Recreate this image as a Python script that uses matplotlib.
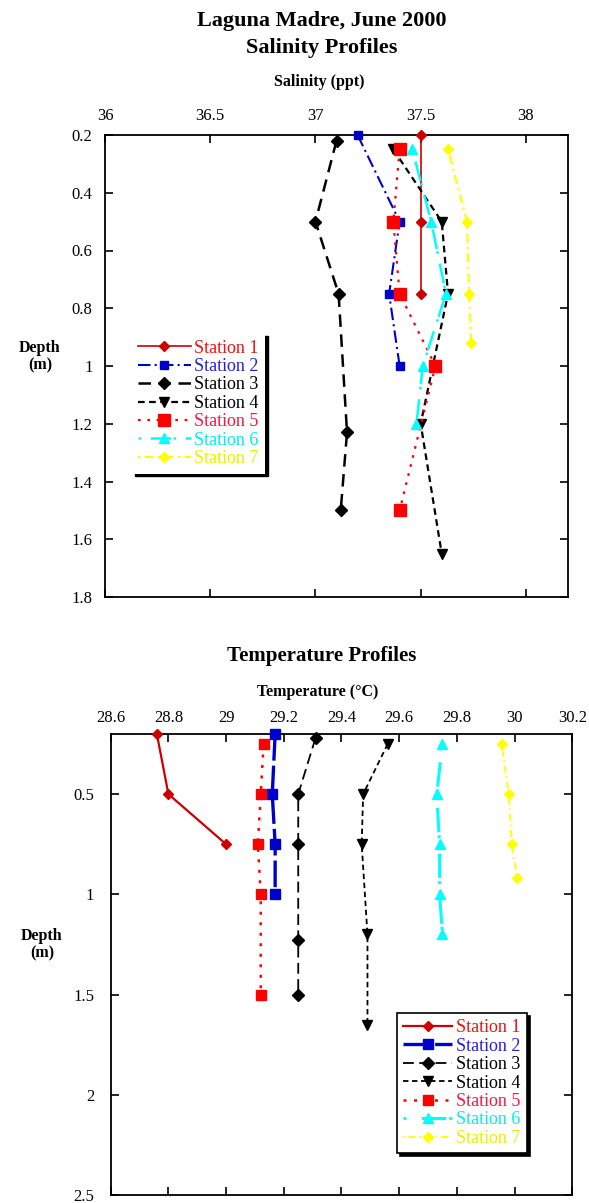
import matplotlib
matplotlib.use("Agg")
import matplotlib.pyplot as plt

plt.rcParams['font.family'] = ['Liberation Serif', 'DejaVu Serif']

# ---------------- data ----------------
stations = ["Station 1", "Station 2", "Station 3", "Station 4",
            "Station 5", "Station 6", "Station 7"]

# Salinity profiles (ppt) vs depth (m)
sal_depth = [
    [0.2, 0.5, 0.75],
    [0.2, 0.5, 0.75, 1.0],
    [0.22, 0.5, 0.75, 1.23, 1.5],
    [0.25, 0.5, 0.75, 1.2, 1.65],
    [0.25, 0.5, 0.75, 1.0, 1.5],
    [0.25, 0.5, 0.75, 1.0, 1.2],
    [0.25, 0.5, 0.75, 0.92],
]
sal_value = [
    [37.5, 37.5, 37.5],
    [37.2, 37.4, 37.35, 37.4],
    [37.1, 37.0, 37.11, 37.15, 37.12],
    [37.37, 37.6, 37.63, 37.5, 37.6],
    [37.4, 37.37, 37.4, 37.57, 37.4],
    [37.46, 37.55, 37.62, 37.51, 37.48],
    [37.63, 37.72, 37.73, 37.74],
]

# Temperature profiles (deg C) vs depth (m)
tmp_depth = [
    [0.2, 0.5, 0.75],
    [0.2, 0.5, 0.75, 1.0],
    [0.22, 0.5, 0.75, 1.23, 1.5],
    [0.25, 0.5, 0.75, 1.2, 1.65],
    [0.25, 0.5, 0.75, 1.0, 1.5],
    [0.25, 0.5, 0.75, 1.0, 1.2],
    [0.25, 0.5, 0.75, 0.92],
]
tmp_value = [
    [28.76, 28.80, 29.00],
    [29.17, 29.16, 29.17, 29.17],
    [29.31, 29.25, 29.25, 29.25, 29.25],
    [29.56, 29.475, 29.47, 29.49, 29.49],
    [29.13, 29.12, 29.11, 29.12, 29.12],
    [29.75, 29.73, 29.74, 29.74, 29.75],
    [29.955, 29.98, 29.99, 30.01],
]

sal_ticks = [36, 36.5, 37, 37.5, 38]
sal_yticks = [0.2, 0.4, 0.6, 0.8, 1.0, 1.2, 1.4, 1.6, 1.8]
tmp_ticks = [28.6, 28.8, 29.0, 29.2, 29.4, 29.6, 29.8, 30.0, 30.2]
tmp_yticks = [0.5, 1.0, 1.5, 2.0, 2.5]

# ---------------- styles ----------------
colors = ['#cc0000', '#0000cc', '#000000', '#000000', '#ff0000', '#00ffff', '#ffff00']
text_colors = ['#ee1111', '#2222dd', '#000000', '#000000', '#ff1144', '#00eeee', '#eeee00']
sal_styles = [
    dict(ls='-', lw=1.2, marker='D', ms=5),
    dict(ls=(0, (6, 2, 1, 2)), lw=1.5, marker='s', ms=6),
    dict(ls=(0, (5, 3)), lw=1.8, marker='D', ms=6),
    dict(ls=(0, (3, 2)), lw=1.6, marker='v', ms=7),
    dict(ls=(0, (1.2, 3)), lw=1.6, marker='s', ms=8),
    dict(ls=(0, (1, 4, 8, 1)), lw=1.8, marker='^', ms=7),
    dict(ls=(0, (1, 2, 4, 2)), lw=1.6, marker='D', ms=5),
]
tmp_styles = [
    dict(ls='-', lw=1.6, marker='D', ms=5),
    dict(ls=(0, (8, 1.5)), lw=2.4, marker='s', ms=7),
    dict(ls=(0, (6, 3)), lw=1.3, marker='D', ms=6),
    dict(ls=(0, (3, 2)), lw=1.3, marker='v', ms=7),
    dict(ls=(0, (1.2, 3)), lw=1.8, marker='s', ms=7),
    dict(ls=(0, (1, 5, 8, 1)), lw=2.2, marker='^', ms=7),
    dict(ls=(0, (1, 2, 4, 2)), lw=1.3, marker='D', ms=5),
]

W, H = 589, 1203
fig = plt.figure(figsize=(W / 100, H / 100), dpi=100)

def frac_box(l, t, r, b):
    return [l / W, 1 - b / H, (r - l) / W, (b - t) / H]

def style_axes(ax, xlim, ylim, xticks, yticks, xlabels, ylabels, xpad, ypad):
    ax.set_xlim(*xlim)
    ax.set_ylim(ylim[1], ylim[0])
    ax.set_xticks(xticks)
    ax.set_xticklabels(xlabels)
    ax.set_yticks(yticks)
    ax.set_yticklabels(ylabels)
    ax.xaxis.tick_top()
    ax.tick_params(axis='both', which='both', direction='in', length=6, width=1.2,
                   top=True, bottom=True, left=True, right=True,
                   labeltop=True, labelbottom=False, labelleft=True, labelright=False,
                   labelsize=12)
    ax.tick_params(axis='x', pad=xpad)
    ax.tick_params(axis='y', pad=ypad)
    for s in ax.spines.values():
        s.set_linewidth(1.3)

def fmt(v):
    return '%g' % v

# ---------------- Salinity ----------------
ax1 = fig.add_axes(frac_box(105, 135, 568, 597))
for i in range(7):
    st = sal_styles[i]
    ax1.plot(sal_value[i], sal_depth[i], color=colors[i], linestyle=st['ls'],
             lw=st['lw'], marker=st['marker'], ms=st['ms'], mec=colors[i],
             mfc=colors[i], label=stations[i], clip_on=False, zorder=3)
style_axes(ax1, (36, 38.2), (0.2, 1.8), sal_ticks, sal_yticks,
           [fmt(v) for v in sal_ticks], [fmt(v) for v in sal_yticks], 8, 9)
leg1 = ax1.legend(loc='upper left', bbox_to_anchor=(0.058, 0.571), borderaxespad=0,
                  prop={'size': 13}, handlelength=2.9, handletextpad=0.2,
                  labelspacing=0.08, borderpad=0.35, fancybox=False,
                  edgecolor='none', framealpha=1,
                  shadow={'color': 'black', 'alpha': 1}, markerfirst=True)
for t, c in zip(leg1.get_texts(), text_colors):
    t.set_color(c)

fig.text(322 / W, 1 - 21 / H, "Laguna Madre, June 2000", ha='center', va='center',
         fontsize=16, fontweight='bold')
fig.text(322 / W, 1 - 48 / H, "Salinity Profiles", ha='center', va='center',
         fontsize=16, fontweight='bold')
fig.text(319 / W, 1 - 82 / H, "Salinity (ppt)", ha='center', va='center',
         fontsize=11.5, fontweight='bold')
fig.text(40 / W, 1 - 357 / H, "Depth\n(m)", ha='center', va='center',
         fontsize=11.5, fontweight='bold', linespacing=1.1)

# ---------------- Temperature ----------------
ax2 = fig.add_axes(frac_box(110.7, 734, 572.3, 1195))
for i in range(7):
    st = tmp_styles[i]
    ax2.plot(tmp_value[i], tmp_depth[i], color=colors[i], linestyle=st['ls'],
             lw=st['lw'], marker=st['marker'], ms=st['ms'], mec=colors[i],
             mfc=colors[i], label=stations[i], clip_on=False, zorder=3)
style_axes(ax2, (28.6, 30.2), (0.2, 2.5), tmp_ticks, tmp_yticks,
           [fmt(v) for v in tmp_ticks], [fmt(v) for v in tmp_yticks], 6, 12)
leg2 = ax2.legend(loc='upper left', bbox_to_anchor=(0.62, 0.395), borderaxespad=0,
                  prop={'size': 13}, handlelength=2.7, handletextpad=0.25,
                  labelspacing=0.08, borderpad=0.35, fancybox=False,
                  edgecolor='black', framealpha=1,
                  shadow={'color': 'black', 'alpha': 1})
leg2.get_frame().set_linewidth(1.2)
for t, c in zip(leg2.get_texts(), text_colors):
    t.set_color(c)

fig.text(322 / W, 1 - 656 / H, "Temperature Profiles", ha='center', va='center',
         fontsize=15, fontweight='bold')
fig.text(318 / W, 1 - 692 / H, "Temperature (\u00b0C)", ha='center', va='center',
         fontsize=11.5, fontweight='bold')
fig.text(42 / W, 1 - 945 / H, "Depth\n(m)", ha='center', va='center',
         fontsize=11.5, fontweight='bold', linespacing=1.1)

fig.savefig("out.png", dpi=100)
